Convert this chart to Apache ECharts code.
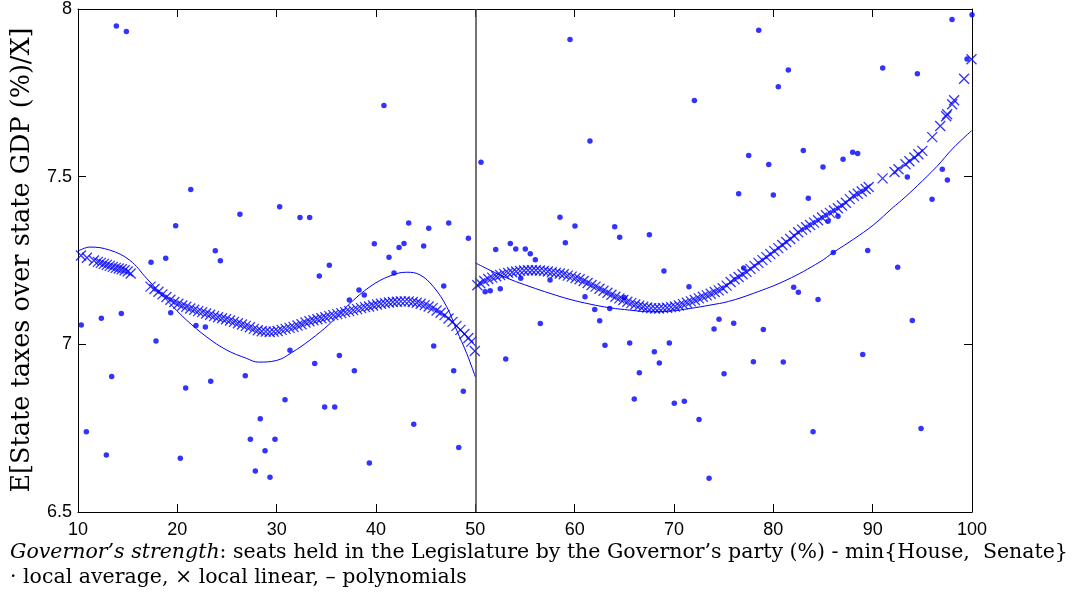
<!DOCTYPE html>
<html>
<head>
<meta charset="utf-8">
<script src="https://cdn.jsdelivr.net/npm/echarts@6/dist/echarts.min.js"></script>
<style>html,body{margin:0;padding:0;background:#fff;}#c{width:1073px;height:601px;}</style>
</head>
<body>
<div id="c"></div>
<script>
// ---- data ----
const xTicks = [10, 20, 30, 40, 50, 60, 70, 80, 90, 100];
const yTicks = [6.5, 7, 7.5, 8];

// local average (dots)
const avgX = [13.86,14.87,21.35,30.3,26.3,19.83,32.35,33.32,17.35,18.83,23.82,24.33,12.35,14.36,10.33,19.33,21.88,22.82,17.85,31.34,13.39,26.84,23.36,20.84,30.84,10.84,12.85,20.3,28.35,27.35,29.83,28.83,27.85,29.33,40.8,43.29,45.31,47.32,39.83,42.32,42.82,44.8,49.3,41.31,35.3,34.29,41.81,46.82,38.29,38.82,37.32,36.31,33.83,45.81,37.82,47.82,48.79,34.83,35.84,43.8,39.33,48.33,
  50.57,59.53,72.05,61.54,58.52,60.03,64.03,64.53,67.52,59.06,53.52,52.05,54.07,55.03,55.53,56.04,68.99,54.57,57.52,50.99,51.5,52.51,71.51,61.04,65.0,62.02,63.53,62.52,56.54,74.53,74.03,63.05,65.54,69.53,68.02,68.52,53.06,66.51,75.04,66.0,70.03,71.04,72.52,73.53,
  78.53,97.99,100.0,81.51,80.5,91.01,94.5,99.5,77.52,83.02,79.54,87.99,88.49,87.02,85.0,76.51,80.0,83.52,93.49,97.01,97.52,95.98,85.5,86.51,77.02,86.04,89.5,92.52,82.05,82.52,84.5,76.01,78.99,93.99,89.0,77.99,81.0,84.0,94.87];
const avgY = [7.949,7.933,7.462,7.41,7.388,7.354,7.378,7.378,7.245,7.257,7.279,7.249,7.078,7.092,7.058,7.094,7.056,7.052,7.01,6.982,6.904,6.906,6.89,6.87,6.835,6.739,6.67,6.66,6.778,6.717,6.717,6.683,6.622,6.604,7.712,7.362,7.346,7.362,7.3,7.289,7.301,7.293,7.316,7.26,7.236,7.204,7.213,7.174,7.162,7.147,7.132,6.967,6.943,6.995,6.921,6.921,6.86,6.813,6.813,6.762,6.646,6.692,
  7.543,7.909,7.727,7.606,7.379,7.353,7.351,7.319,7.327,7.303,7.301,7.283,7.284,7.284,7.27,7.252,7.219,7.197,7.192,7.157,7.16,7.166,7.172,7.142,7.14,7.104,7.107,7.07,7.062,7.075,7.046,6.997,7.004,7.004,6.978,6.944,6.956,6.915,6.912,6.837,6.824,6.83,6.776,6.601,
  7.937,7.969,7.983,7.818,7.768,7.824,7.807,7.851,7.563,7.578,7.536,7.573,7.569,7.552,7.529,7.449,7.445,7.436,7.499,7.522,7.49,7.433,7.367,7.382,7.228,7.274,7.28,7.23,7.17,7.155,7.134,7.063,7.044,7.071,6.97,6.948,6.947,6.739,6.749];

// local linear (x markers)
const linX = [10.3,10.9,11.6,12.0,12.3,12.6,12.9,13.2,13.5,13.8,14.1,14.4,14.7,15.0,15.3,
  17.3,17.7,18.1,18.5,18.9,19.3,19.7,20.1,20.5,20.9,21.3,21.7,22.1,22.5,22.9,23.3,23.7,24.1,24.5,24.9,25.3,25.7,26.1,26.5,26.9,27.3,27.7,28.1,28.5,28.9,29.3,29.7,30.1,30.5,30.9,31.3,31.7,32.1,32.5,32.9,33.3,33.7,34.1,34.5,34.9,35.3,35.7,36.1,36.5,36.9,37.3,37.7,38.1,38.5,38.9,39.3,39.7,40.1,40.5,40.9,41.3,41.7,42.1,42.5,42.9,43.3,43.7,44.1,44.5,44.9,45.3,45.7,46.1,46.5,46.9,47.3,47.7,48.1,48.5,48.9,49.3,49.6,49.95,
  50.2,50.5,50.9,51.3,51.7,52.1,52.5,52.9,53.3,53.7,54.1,54.5,54.9,55.3,55.7,56.1,56.5,56.9,57.3,57.7,58.1,58.5,58.9,59.3,59.7,60.1,60.5,60.9,61.3,61.7,62.1,62.5,62.9,63.3,63.7,64.1,64.5,64.9,65.3,65.7,66.1,66.5,66.9,67.3,67.7,68.1,68.5,68.9,69.3,69.7,70.1,70.5,70.9,71.3,71.7,72.1,72.5,72.9,73.3,73.7,74.1,74.5,74.9,75.3,75.7,76.1,76.5,76.9,77.3,77.7,78.1,78.5,78.9,79.3,79.7,80.1,80.5,80.9,81.3,81.7,82.1,82.5,82.9,83.3,83.7,84.1,84.5,84.9,85.3,85.7,86.1,86.5,86.9,87.3,87.7,88.1,88.5,88.9,89.3,89.6,91.0,92.2,92.6,93.3,93.7,94.2,94.6,95.0,96.0,96.8,97.4,97.5,98.0,98.2,99.2,99.95];
const linY = [7.265,7.258,7.250,7.246,7.243,7.240,7.237,7.234,7.231,7.228,7.226,7.224,7.221,7.217,7.211,
  7.172,7.165,7.157,7.149,7.141,7.133,7.126,7.121,7.116,7.112,7.107,7.103,7.099,7.096,7.092,7.088,7.084,7.081,7.078,7.075,7.071,7.067,7.063,7.059,7.055,7.051,7.046,7.042,7.039,7.038,7.037,7.038,7.040,7.043,7.046,7.049,7.052,7.056,7.060,7.065,7.069,7.072,7.075,7.078,7.081,7.084,7.087,7.090,7.093,7.096,7.099,7.102,7.105,7.108,7.111,7.113,7.116,7.119,7.121,7.123,7.125,7.126,7.127,7.128,7.128,7.128,7.126,7.124,7.121,7.117,7.113,7.108,7.101,7.094,7.087,7.077,7.067,7.055,7.043,7.031,7.019,7.008,6.980,
  7.176,7.182,7.189,7.195,7.199,7.203,7.207,7.210,7.213,7.215,7.217,7.219,7.220,7.221,7.221,7.221,7.220,7.219,7.217,7.215,7.213,7.211,7.209,7.205,7.202,7.198,7.194,7.189,7.183,7.177,7.172,7.166,7.160,7.154,7.148,7.142,7.137,7.132,7.127,7.123,7.119,7.115,7.112,7.110,7.108,7.107,7.107,7.108,7.109,7.111,7.113,7.116,7.120,7.124,7.128,7.132,7.137,7.142,7.146,7.151,7.156,7.161,7.167,7.175,7.186,7.194,7.201,7.209,7.216,7.225,7.234,7.243,7.251,7.260,7.269,7.278,7.287,7.296,7.305,7.314,7.324,7.334,7.342,7.349,7.356,7.363,7.370,7.378,7.385,7.392,7.399,7.406,7.414,7.422,7.433,7.443,7.449,7.456,7.463,7.469,7.495,7.514,7.522,7.537,7.546,7.557,7.567,7.577,7.618,7.651,7.680,7.686,7.716,7.728,7.792,7.850];

// polynomial fits (lines), left and right of 50
const polyLX = [10.07,11.2,13.2,15.2,16.9,18.93,20.94,22.96,24.97,26.98,28.15,30.0,31.5,33.36,35.37,37.38,39.4,41.41,43.09,44.43,45.77,47.12,48.12,49.13,50.0];
const polyLY = [7.279,7.29,7.281,7.251,7.197,7.132,7.072,7.022,6.983,6.958,6.947,6.952,6.975,7.013,7.062,7.122,7.172,7.204,7.215,7.207,7.172,7.112,7.042,6.973,6.903];
const polyRX = [50.0,51.48,53.49,55.51,57.52,59.53,61.54,63.56,65.57,67.59,69.6,71.62,73.63,75.5,77.99,81.35,84.7,86.04,88.05,90.07,92.08,92.93,94.5,96.45,98.1,99.96];
const polyRY = [7.243,7.221,7.194,7.172,7.152,7.134,7.12,7.109,7.102,7.097,7.099,7.107,7.117,7.128,7.152,7.192,7.246,7.274,7.313,7.356,7.409,7.43,7.473,7.53,7.585,7.637];

const yName = 'E[State taxes over state GDP (%)/X]';
const xName1 = '{i|Governor’s strength}: seats held in the Legislature by the Governor’s party (%) - min{House,  Senate}';
const xName2 = '· local average, × local linear, – polynomials';

const zip = (a, b) => a.map((v, i) => [v, b[i]]);
const BLUE = '#0000ff';
const SANS = 'Liberation Sans';
const SERIF = 'DejaVu Serif';

const chart = echarts.init(document.getElementById('c'), null, {renderer: 'canvas'});
const axisCommon = {
  type: 'value',
  splitLine: {show: false},
  axisLine: {show: true, onZero: false, lineStyle: {color: '#000', width: 1}},
  axisTick: {show: true, inside: true, length: 8, lineStyle: {color: '#000', width: 1}}
};
chart.setOption({
  animation: false,
  backgroundColor: '#fff',
  grid: {left: 78, right: 101, top: 9, bottom: 89, containLabel: false, outerBoundsMode: 'none'},
  xAxis: [
    Object.assign({}, axisCommon, {
      position: 'bottom', min: 10, max: 100, interval: 10,
      axisLabel: {color: '#000', fontFamily: SANS, fontSize: 18, margin: 9}
    }),
    Object.assign({}, axisCommon, {
      position: 'top', min: 10, max: 100, interval: 10, axisLabel: {show: false}
    })
  ],
  yAxis: [
    Object.assign({}, axisCommon, {
      position: 'left', min: 6.5, max: 8, interval: 0.5,
      axisLabel: {color: '#000', fontFamily: SANS, fontSize: 18, margin: 6}
    }),
    Object.assign({}, axisCommon, {
      position: 'right', min: 6.5, max: 8, interval: 0.5, axisLabel: {show: false}
    })
  ],
  graphic: [
    {type: 'text', x: 22, y: 260, rotation: Math.PI / 2, silent: true,
      style: {text: yName, fill: '#000', font: '25.5px "' + SERIF + '"', align: 'center', verticalAlign: 'middle'}},
    {type: 'text', left: 10, top: 542, silent: true,
      style: {
        text: xName1,
        fill: '#000', font: '20.5px "' + SERIF + '"',
        rich: {i: {fontStyle: 'italic', fontFamily: SERIF, fontSize: 20.5, fill: '#000'}}
      }},
    {type: 'text', left: 10, top: 567, silent: true,
      style: {text: xName2, fill: '#000', font: '20.5px "' + SERIF + '"'}}
  ],
  series: [
    {
      type: 'scatter', name: 'local average', data: zip(avgX, avgY),
      symbol: 'circle', symbolSize: 5.5, itemStyle: {color: BLUE},
      markLine: {silent: true, symbol: 'none', label: {show: false},
        lineStyle: {color: '#444', width: 1.5, type: 'solid'}, data: [{xAxis: 50}]}
    },
    {
      type: 'scatter', name: 'local linear', data: zip(linX, linY),
      symbol: 'path://M0,0L10,10M0,10L10,0', symbolSize: 10,
      itemStyle: {color: 'rgba(0,0,0,0)', borderColor: BLUE, borderWidth: 1.3}
    },
    {type: 'line', name: 'poly left', data: zip(polyLX, polyLY), smooth: 0.4, showSymbol: false,
      lineStyle: {color: BLUE, width: 1}},
    {type: 'line', name: 'poly right', data: zip(polyRX, polyRY), smooth: 0.4, showSymbol: false,
      lineStyle: {color: BLUE, width: 1}}
  ]
});
</script>
</body>
</html>
